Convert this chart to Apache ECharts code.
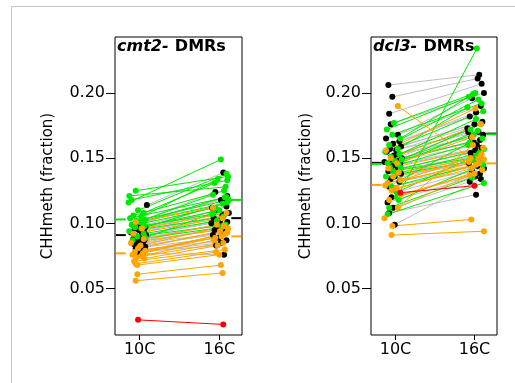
<!DOCTYPE html>
<html>
<head>
<meta charset="utf-8">
<script src="https://cdn.jsdelivr.net/npm/echarts@6/dist/echarts.min.js"></script>
<style>
  html, body { margin: 0; padding: 0; background: #fff; }
  #chart { width: 515px; height: 383px; }
</style>
</head>
<body>
<div id="chart"></div>
<script>
const xLabels = ['10C', '16C'];
const yTicks = [0.05, 0.10, 0.15, 0.20];
const panelTitles = [['cmt2-', 'DMRs'], ['dcl3-', 'DMRs']];

// cmt2 panel
const cmt2Green10 = [0.125,0.121,0.118,0.116,0.110,0.108,0.106,0.105,0.104,0.103,0.102,0.101,0.100,0.099,0.098,0.097,0.096,0.094,0.092,0.090,0.089,0.087];
const cmt2Green16 = [0.136,0.128,0.133,0.149,0.138,0.131,0.125,0.134,0.120,0.122,0.118,0.115,0.112,0.120,0.110,0.107,0.116,0.105,0.102,0.099,0.108,0.097];
const cmt2GreenJit10 = [-0.05,-0.13,-0.10,-0.14,-0.02,0.05,-0.08,0.02,-0.12,0.07,-0.04,0.00,0.04,-0.10,0.06,-0.06,0.02,-0.13,0.05,-0.03,0.07,-0.09];
const cmt2GreenJit16 = [0.11,0.08,0.10,0.02,0.09,-0.06,0.06,-0.02,0.09,-0.08,0.12,0.04,-0.05,0.07,0.00,-0.09,0.10,0.05,-0.03,0.08,-0.07,0.03];

const cmt2Black10 = [0.114,0.101,0.100,0.099,0.098,0.097,0.096,0.095,0.094,0.093,0.092,0.091,0.090,0.089,0.088,0.087,0.086,0.085,0.084,0.083,0.082,0.081,0.080,0.079,0.078,0.077];
const cmt2Black16 = [0.139,0.124,0.121,0.118,0.112,0.116,0.108,0.110,0.106,0.104,0.113,0.102,0.100,0.107,0.098,0.101,0.095,0.097,0.093,0.091,0.094,0.089,0.087,0.085,0.083,0.076];
const cmt2BlackJit10 = [0.09,-0.03,0.04,-0.09,0.01,0.07,-0.06,-0.01,0.05,-0.11,0.03,0.08,-0.04,0.02,-0.08,0.06,-0.02,0.04,-0.07,0.01,0.07,-0.05,0.03,0.06,-0.02,0.04];
const cmt2BlackJit16 = [0.05,-0.05,0.10,0.02,-0.09,0.07,0.12,-0.03,0.04,-0.07,0.09,0.01,-0.10,0.06,-0.02,0.10,-0.06,0.03,0.08,-0.08,0.05,-0.01,0.09,0.02,-0.04,0.06];

const cmt2Orange10 = [0.101,0.096,0.092,0.088,0.085,0.083,0.081,0.079,0.078,0.077,0.076,0.075,0.074,0.073,0.071,0.069,0.068,0.061,0.056];
const cmt2Orange16 = [0.112,0.108,0.104,0.099,0.096,0.098,0.094,0.092,0.089,0.093,0.090,0.087,0.085,0.083,0.080,0.078,0.076,0.068,0.062];
const cmt2OrangeJit10 = [-0.05,0.03,-0.08,0.05,-0.11,0.01,-0.02,0.07,-0.06,0.04,-0.09,0.02,-0.04,0.06,-0.07,-0.05,-0.03,-0.03,-0.05];
const cmt2OrangeJit16 = [-0.08,0.09,0.04,-0.03,0.11,0.06,0.01,0.08,-0.05,0.10,0.03,-0.07,0.05,-0.02,0.07,-0.04,0.00,0.02,0.04];

const cmt2Red10 = [0.026];
const cmt2Red16 = [0.0225];
const cmt2RedJit10 = [-0.02];
const cmt2RedJit16 = [0.05];

// mean markers: green, black, orange
const cmt2Mean10 = [0.103, 0.091, 0.077];
const cmt2Mean16 = [0.118, 0.104, 0.090];

// dcl3 panel
const dcl3Green10 = [0.120,0.177,0.172,0.168,0.165,0.160,0.157,0.155,0.153,0.151,0.149,0.148,0.146,0.145,0.143,0.142,0.140,0.138,0.136,0.133,0.128,0.124,0.118,0.112,0.107];
const dcl3Green16 = [0.234,0.200,0.197,0.192,0.199,0.195,0.189,0.186,0.180,0.172,0.176,0.168,0.165,0.160,0.171,0.157,0.150,0.154,0.148,0.162,0.146,0.152,0.145,0.135,0.131];
const dcl3GreenJit10 = [0.02,-0.02,-0.11,-0.04,0.06,-0.08,0.03,-0.13,0.05,-0.06,0.08,-0.01,-0.10,0.04,-0.07,0.07,-0.03,0.01,-0.12,0.06,-0.05,0.02,0.04,-0.08,-0.10];
const dcl3GreenJit16 = [0.03,0.01,-0.07,0.09,-0.02,0.05,-0.09,0.11,0.02,-0.05,0.08,-0.01,0.10,-0.08,0.04,0.12,-0.04,0.06,0.00,-0.06,0.09,0.03,0.11,-0.03,0.12];

const dcl3Black10 = [0.206,0.197,0.184,0.176,0.168,0.165,0.163,0.161,0.159,0.157,0.156,0.155,0.153,0.152,0.150,0.149,0.148,0.147,0.146,0.144,0.142,0.140,0.138,0.136,0.134,0.132,0.128,0.124,0.120,0.116,0.112,0.108,0.099];
const dcl3Black16 = [0.214,0.211,0.207,0.200,0.196,0.190,0.185,0.182,0.178,0.176,0.173,0.170,0.168,0.166,0.164,0.162,0.160,0.170,0.158,0.156,0.154,0.152,0.150,0.148,0.146,0.144,0.142,0.140,0.138,0.136,0.132,0.122,0.134];
const dcl3BlackJit10 = [-0.09,-0.04,-0.08,-0.06,0.03,-0.12,0.05,-0.03,0.07,-0.07,0.01,-0.11,0.04,-0.02,0.08,-0.05,0.02,-0.14,0.06,-0.04,0.03,-0.09,0.07,-0.01,-0.06,0.05,-0.08,0.02,-0.05,-0.10,-0.03,-0.08,-0.01];
const dcl3BlackJit16 = [0.06,0.04,0.09,0.12,-0.03,0.08,0.02,-0.06,0.10,0.00,-0.09,0.05,0.11,-0.04,0.07,-0.01,0.03,-0.08,0.09,0.01,-0.05,0.06,-0.02,0.10,-0.07,0.04,0.12,-0.03,0.07,0.01,-0.06,0.02,0.08];

const dcl3Orange10 = [0.190,0.156,0.150,0.146,0.142,0.139,0.136,0.133,0.131,0.129,0.127,0.125,0.122,0.118,0.112,0.104,0.098,0.091];
const dcl3Orange16 = [0.150,0.188,0.176,0.166,0.158,0.150,0.147,0.153,0.145,0.149,0.142,0.146,0.138,0.141,0.137,0.160,0.103,0.094];
const dcl3OrangeJit10 = [0.03,-0.12,-0.06,0.02,-0.09,0.04,-0.03,0.07,-0.10,-0.13,0.01,-0.05,0.06,-0.08,0.03,-0.14,-0.04,-0.05];
const dcl3OrangeJit16 = [-0.05,0.01,0.08,-0.03,0.11,0.05,-0.07,0.09,0.02,0.12,-0.04,0.06,0.00,0.10,-0.06,-0.02,-0.04,0.12];

const dcl3Red10 = [0.1235];
const dcl3Red16 = [0.1289];
const dcl3RedJit10 = [0.06];
const dcl3RedJit16 = [0.00];

const dcl3Mean10 = [0.1456, 0.1464, 0.1295];
const dcl3Mean16 = [0.1683, 0.1688, 0.146];

const GREEN = '#00e800';
const BLACK = '#000000';
const GREY = '#bebebe';
const ORANGE = '#ffa500';
const RED = '#ff0000';
const FONT = 'DejaVu Sans';

const chart = echarts.init(document.getElementById('chart'));

function pairLines(g, v10, v16, j10, j16, color) {
  return {
    type: 'lines',
    coordinateSystem: 'cartesian2d',
    xAxisIndex: g, yAxisIndex: g,
    polyline: false,
    silent: true,
    lineStyle: { color: color, width: 1, opacity: 1 },
    data: v10.map((a, i) => ({ coords: [[1 + j10[i], a], [2 + j16[i], v16[i]]] }))
  };
}

function pairPoints(g, v10, v16, j10, j16, color) {
  return {
    type: 'scatter',
    xAxisIndex: g, yAxisIndex: g,
    symbolSize: 6,
    itemStyle: { color: color, opacity: 1 },
    data: v10.map((a, i) => [1 + j10[i], a]).concat(v16.map((b, i) => [2 + j16[i], b]))
  };
}

// short dashes at the box edges for group means (index 0 green, 1 black, 2 orange)
function meanDashes(g, m10, m16) {
  const cols = [GREEN, BLACK, ORANGE];
  const order = [1, 0, 2]; // black under green
  const out = [];
  order.forEach(k => {
    [[0.70, 0.825, m10[k]], [2.15, 2.275, m16[k]]].forEach(d => {
      out.push({
        type: 'line',
        xAxisIndex: g, yAxisIndex: g,
        symbol: 'none',
        lineStyle: { color: cols[k], width: 2 },
        data: [[d[0], d[2]], [d[1], d[2]]],
        z: 5
      });
    });
  });
  return out;
}

function panel(g, d) {
  return [
    pairLines(g, d.b10, d.b16, d.bj10, d.bj16, GREY),
    pairLines(g, d.g10, d.g16, d.gj10, d.gj16, GREEN),
    pairLines(g, d.o10, d.o16, d.oj10, d.oj16, ORANGE),
    pairLines(g, d.r10, d.r16, d.rj10, d.rj16, RED),
    pairPoints(g, d.b10, d.b16, d.bj10, d.bj16, BLACK),
    pairPoints(g, d.g10, d.g16, d.gj10, d.gj16, GREEN),
    pairPoints(g, d.o10, d.o16, d.oj10, d.oj16, ORANGE),
    pairPoints(g, d.r10, d.r16, d.rj10, d.rj16, RED)
  ].concat(meanDashes(g, d.m10, d.m16));
}

const series = panel(0, {
  g10: cmt2Green10, g16: cmt2Green16, gj10: cmt2GreenJit10, gj16: cmt2GreenJit16,
  b10: cmt2Black10, b16: cmt2Black16, bj10: cmt2BlackJit10, bj16: cmt2BlackJit16,
  o10: cmt2Orange10, o16: cmt2Orange16, oj10: cmt2OrangeJit10, oj16: cmt2OrangeJit16,
  r10: cmt2Red10, r16: cmt2Red16, rj10: cmt2RedJit10, rj16: cmt2RedJit16,
  m10: cmt2Mean10, m16: cmt2Mean16
}).concat(panel(1, {
  g10: dcl3Green10, g16: dcl3Green16, gj10: dcl3GreenJit10, gj16: dcl3GreenJit16,
  b10: dcl3Black10, b16: dcl3Black16, bj10: dcl3BlackJit10, bj16: dcl3BlackJit16,
  o10: dcl3Orange10, o16: dcl3Orange16, oj10: dcl3OrangeJit10, oj16: dcl3OrangeJit16,
  r10: dcl3Red10, r16: dcl3Red16, rj10: dcl3RedJit10, rj16: dcl3RedJit16,
  m10: dcl3Mean10, m16: dcl3Mean16
}));

function xAxis(g) {
  return {
    type: 'value', gridIndex: g, min: 0.69, max: 2.285,
    axisLine: { show: false },
    splitLine: { show: false },
    axisTick: { show: true, length: 5, customValues: [1, 2], lineStyle: { color: '#000' } },
    axisLabel: {
      customValues: [1, 2], margin: 7,
      formatter: v => xLabels[Math.round(v) - 1],
      color: '#000', fontSize: 16, fontFamily: FONT
    }
  };
}

function yAxis(g, gap) {
  return {
    type: 'value', gridIndex: g, min: 0.0144, max: 0.2429,
    name: 'CHHmeth (fraction)', nameLocation: 'middle', nameGap: gap,
    nameTextStyle: { fontSize: 15, color: '#000', fontFamily: FONT },
    axisLine: { show: false },
    splitLine: { show: false },
    axisTick: { show: true, length: 9, customValues: yTicks, lineStyle: { color: '#000' } },
    axisLabel: {
      customValues: yTicks, margin: 10,
      formatter: v => v.toFixed(2),
      color: '#000', fontSize: 16, fontFamily: FONT
    }
  };
}

function title(lbl, left) {
  return {
    text: '{i|' + lbl[0] + '} {b|' + lbl[1] + '}',
    left: left, top: 38, padding: 0,
    textStyle: {
      rich: {
        i: { fontStyle: 'italic', fontWeight: 'bold', fontSize: 16, fontFamily: FONT, color: '#000' },
        b: { fontWeight: 'bold', fontSize: 16, fontFamily: FONT, color: '#000' }
      }
    }
  };
}

chart.setOption({
  animation: false,
  backgroundColor: '#fff',
  textStyle: { fontFamily: FONT },
  title: [title(panelTitles[0], 117), title(panelTitles[1], 373)],
  graphic: [{
    type: 'rect', silent: true,
    shape: { x: 11.5, y: 6.5, width: 700, height: 700 },
    style: { fill: 'none', stroke: '#c4c4c4', lineWidth: 1 }
  }],
  grid: [
    { left: 115, top: 37, width: 127, height: 298, show: true, borderColor: '#000', borderWidth: 1 },
    { left: 371, top: 37, width: 126, height: 298, show: true, borderColor: '#000', borderWidth: 1 }
  ],
  xAxis: [xAxis(0), xAxis(1)],
  yAxis: [yAxis(0, 59), yAxis(1, 57)],
  series: series
});
</script>
</body>
</html>
